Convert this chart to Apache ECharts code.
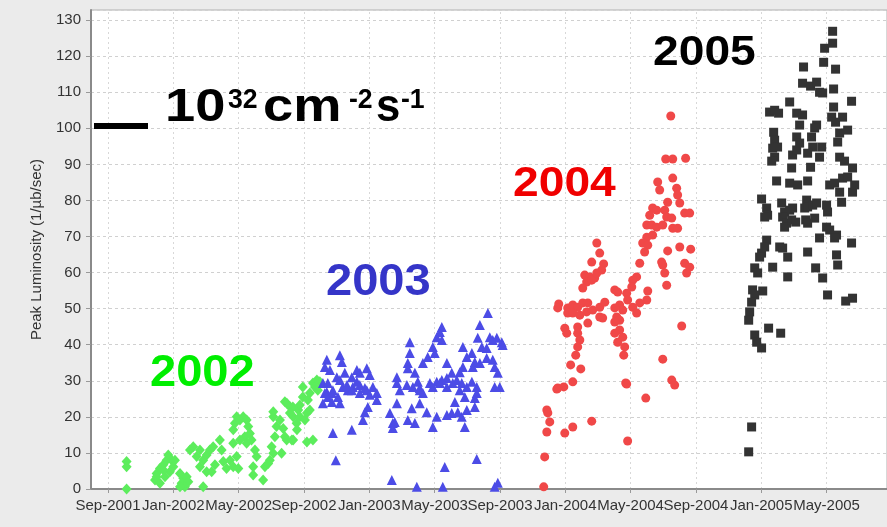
<!DOCTYPE html>
<html><head><meta charset="utf-8">
<script src="https://cdn.jsdelivr.net/npm/echarts@6/dist/echarts.min.js"></script>
<style>html,body{margin:0;padding:0;background:#ebebeb}#c{width:887px;height:527px}</style>
</head><body><div id="c"></div><script>
// x = months after Sep-2001
const tickLabels = ['Sep-2001','Jan-2002','May-2002','Sep-2002','Jan-2003','May-2003','Sep-2003','Jan-2004','May-2004','Sep-2004','Jan-2005','May-2005'];
const tickMonths = [0,4,8,12,16,20,24,28,32,36,40,44];
const yTicks = [0,10,20,30,40,50,60,70,80,90,100,110,120,130];

const lum2002 = [
[1.14,7.6],[1.14,6.2],[1.14,0],
[2.88,2.5],[2.98,4.3],[3.18,5.7],[3.39,6.7],[3.59,8.0],[3.69,9.4],[3.9,8.0],[4.0,6.2],[3.79,4.8],[3.49,3.4],[3.18,1.6],[2.98,3.4],[3.39,5.3],[4.1,8.0],
[4.41,4.3],[4.61,3.0],[4.51,1.6],[4.82,3.4],[4.92,2.0],[4.71,0.6],[4.41,0.6],
[5.02,10.8],[5.22,11.7],[5.43,9.0],[5.63,10.8],[5.63,6.2],[5.83,8.0],[6.04,9.4],[6.24,10.8],[6.44,11.7],[6.04,4.8],[6.35,4.8],[6.55,6.7],[5.83,0.6],
[6.85,13.6],[6.96,10.8],[7.06,7.6],[7.26,5.7],[7.47,8.0],[7.67,12.7],[7.67,6.2],[7.88,9.0],[7.98,5.7],
[7.67,16.4],[7.77,18.2],[7.88,20.0],[8.08,19.1],[8.28,20.0],[8.49,19.1],[8.59,17.3],[8.38,14.5],[8.69,15.4],[8.08,13.6],[8.49,12.7],
[8.79,13.6],[9.0,10.8],[9.1,9.0],[8.89,6.2],[8.89,3.9],
[9.5,2.5],[9.61,6.2],[9.81,7.1],[9.91,8.0],[10.12,9.9],[10.02,11.7],[10.22,14.5],[10.32,17.3],[10.12,20.0],[10.12,21.4],[10.53,19.1],[10.73,16.8],[10.83,14.5],[10.63,9.9],[10.94,13.6],
[10.83,24.2],[11.14,22.8],[11.34,20.0],[11.55,18.2],[11.65,21.9],[11.34,13.6],[11.75,23.3],
[10.95,23.8],[11.32,22.7],[11.14,21.1],[11.75,20.0],[12.18,21.1],[11.57,16.4],[11.26,13.6],[12.18,13.0],[12.55,13.6],[12.55,29.4],[12.97,29.7],[12.85,27.4],[12.36,26.6],[11.93,28.3],[12.79,30.2],[12.67,28.3],[11.93,25.5],[12.24,24.7],[12.06,19.1],[12.36,21.9]
];

const lum2003 = [
[13.95,8.0],[13.77,15.5],[14.93,16.4],[15.61,19.1],[17.38,2.5],[18.91,0.6],[20.5,0.6],[20.62,6.1],[22.58,8.3],[23.87,1.7],[23.68,0.6],
[23.68,28.3],[23.99,28.3],[17.44,18.3],[17.69,23.8],[18.36,19.1],[18.79,18.3],[19.52,21.3],[19.89,17.2],[20.13,20.0],[20.75,20.5],[21.05,21.1],[21.66,20.0],[21.85,17.2],[22.46,22.7],
[23.26,48.8],[22.77,45.5],[20.44,44.9],[20.32,43.5],[20.13,42.1],[20.44,41.3],[18.48,40.7],[23.38,42.1],[23.56,41.3],[23.81,41.9],[24.11,40.7],[24.17,39.9],
[21.73,39.4],[22.64,41.9],[22.89,39.4],[23.19,39.1],[19.89,39.4],[20.01,37.7],[19.58,36.6],[19.28,34.9],[18.48,37.7],[18.36,34.9],[18.36,33.5],
[14.2,37.1],[14.32,35.2],[13.4,35.8],[13.28,33.8],[13.59,33.0],[15.24,33.0],[15.42,32.2],[15.85,33.5],[16.03,31.6],[14.93,31.0],[14.5,32.2],[14.01,31.0],
[22.28,37.7],[21.97,36.6],[22.46,35.2],[22.34,33.8],[21.73,33.8],[21.54,32.4],[22.77,34.9],[23.19,36.3],[23.56,35.8],[23.68,33.8],[23.87,32.2],
[20.75,34.9],[21.05,32.2],[20.75,30.8],[20.44,30.2],[20.13,29.7],[19.71,29.4],[21.36,30.2],[21.66,29.4],[21.97,28.3],[22.28,29.7],[22.58,28.3],
[18.79,32.2],[18.97,29.7],[18.67,28.3],[19.09,27.4],[19.28,26.6],[17.69,31.0],[17.69,29.4],[17.87,27.4],
[14.2,30.2],[14.38,28.3],[14.69,27.4],[14.99,28.3],[15.42,28.8],[15.85,27.4],[16.22,28.3],[16.46,26.6],[13.16,29.4],[13.4,26.9],[13.71,26.6],
[13.46,29.4],[13.77,27.4],[14.08,25.5],[14.2,23.8],[14.63,28.8],[14.93,27.4],[15.24,29.7],[15.42,26.6],[15.73,28.0],[16.03,26.1],[16.46,24.7],[15.91,22.7],[15.73,21.3],
[13.46,25.5],[13.71,24.1],[13.16,23.8],[13.28,26.6],[18.3,28.8],[19.09,28.0],[19.89,28.3],[18.6,22.4],[19.09,23.8],[17.26,21.1],[17.56,18.6],[17.44,16.9],
[21.11,29.4],[21.54,27.4],[21.85,25.5],[21.24,24.1],[20.75,28.3],[20.32,29.4],[21.42,21.3],[21.97,21.9],[22.46,25.2],[22.58,26.6]
];

const lum2004 = [
[34.46,103.4],[34.15,91.5],[34.58,91.5],[35.37,91.7],[33.66,85.1],[34.58,86.2],[34.82,83.4],[34.88,81.5],[33.78,82.9],[34.27,79.5],[35.01,79.3],
[33.35,77.9],[33.6,77.3],[34.09,77.3],[33.17,75.9],[34.21,75.4],[34.52,75.1],[35.31,76.5],[35.62,76.5],[32.99,73.2],[33.29,73.2],[33.6,72.6],[33.97,73.2],[34.58,72.3],[34.88,72.3],
[32.99,69.8],[33.35,70.4],[32.74,68.2],[33.05,67.6],[35.01,67.1],[35.68,66.5],[34.27,66.0],[32.86,65.7],[33.9,62.9],[33.97,62.1],[35.31,62.6],[35.62,61.5],[35.43,59.9],[34.09,59.9],[34.21,56.5],
[32.56,62.6],[32.37,58.8],[33.05,54.9],[32.13,57.9],[32.07,56.0],[31.76,54.3],[32.99,52.4],[32.56,51.6],[32.13,50.4],[32.37,48.8],[31.82,52.4],[31.03,55.2],[31.21,54.6],[31.33,51.0],[31.52,49.6],[31.03,50.2],
[31.15,47.7],[31.33,46.8],[31.03,46.3],[31.33,44.1],[31.03,43.2],[31.52,42.1],[31.21,40.7],[31.64,39.4],[31.58,37.1],[31.7,29.4],[35.13,45.2],[33.97,36.0],[34.52,30.2],[34.7,28.8],[32.93,25.2],
[29.93,68.2],[30.11,65.4],[29.62,62.9],[30.35,62.4],[30.23,60.7],[29.19,59.3],[29.5,58.8],[29.8,58.5],[29.31,57.4],[29.62,57.9],[29.93,59.9],[29.07,55.7],
[27.6,51.3],[27.54,50.2],[28.15,50.2],[28.46,51.0],[28.76,50.4],[29.07,51.6],[29.38,51.6],[28.15,48.8],[28.46,48.8],[28.89,48.2],[29.31,49.1],[29.68,49.6],[30.11,50.4],[30.42,51.8],[30.11,47.7],[30.29,47.4],[29.38,46.0],
[27.97,44.6],[28.09,43.2],[28.76,44.9],[28.76,43.2],[28.89,41.3],[28.76,39.4],[28.64,37.1],[28.33,34.4],[28.95,33.3],[28.46,29.7],[27.91,28.3],[27.54,28.0],[27.48,27.7],
[26.87,21.9],[26.93,21.1],[27.05,18.6],[26.87,15.8],[27.97,15.5],[28.46,17.2],[29.62,18.8],[26.74,8.9],[26.68,0.6],[31.76,29.1],[31.82,13.3]
];

const lum2005 = [
[44.37,126.9],[43.88,122.2],[44.37,123.6],[43.82,118.3],[44.55,116.4],[42.59,117.0],[42.53,112.5],[43.02,111.7],[43.39,112.8],[43.57,110.0],[43.76,109.8],[44.43,110.9],[45.53,107.5],[44.43,105.9],[41.74,107.3],
[40.51,104.5],[40.82,105.0],[41.06,104.2],[42.17,104.2],[42.53,103.7],[44.31,103.1],[44.55,101.7],[44.98,103.1],[42.35,100.9],[43.39,100.9],[43.27,100.1],[40.76,98.9],[45.29,99.5],
[40.82,96.7],[41.0,94.8],[40.7,94.5],[42.17,97.6],[42.35,95.9],[43.08,97.6],[43.15,94.8],[44.68,96.2],[44.8,98.7],[43.7,94.8],[40.82,92.0],[40.64,90.9],[41.92,92.6],[42.17,94.0],[42.84,93.1],[43.57,92.0],[44.8,92.0],[45.1,90.9],
[41.86,89.0],[43.02,89.2],[45.59,89.0],[40.94,85.4],[41.74,84.8],[42.23,84.3],[42.84,85.4],[44.19,84.3],[44.49,84.8],[44.98,86.2],[45.29,86.5],[44.8,82.3],[45.59,82.3],[45.72,84.3],
[40.02,80.4],[41.25,79.3],[41.74,77.3],[41.92,77.9],[41.43,76.8],[42.78,80.1],[42.66,77.9],[42.84,78.2],[43.15,78.7],[43.39,79.3],[44.0,78.7],[44.06,76.8],[44.92,79.5],
[40.33,77.9],[40.39,75.9],[40.21,75.4],[41.31,75.4],[41.55,73.7],[41.43,72.6],[41.86,74.6],[42.11,74.0],[42.72,74.6],[43.27,75.1],[42.84,73.7],[44.0,72.6],[44.19,71.8],[44.61,70.4],[44.49,69.6],[43.57,69.6],[45.53,68.2],
[40.33,69.0],[40.21,67.1],[40.02,65.4],[39.9,64.3],[41.13,67.1],[41.31,66.8],[41.62,64.3],[42.84,65.7],[44.61,64.9],[44.68,62.1],[40.7,61.5],[39.6,61.3],[39.78,59.9],[43.33,61.3],[41.62,58.8],[43.76,58.5],
[39.47,55.2],[40.09,54.9],[39.6,53.8],[39.41,51.8],[39.29,49.1],[39.23,46.8],[44.06,53.8],[45.17,52.1],[45.59,52.9],[40.45,44.6],[41.19,43.2],[39.6,42.7],[39.72,40.7],[40.02,39.1],[39.41,17.2],[39.23,10.3]
];

const yearLabels = ['2002','2003','2004','2005'];

const chart = echarts.init(document.getElementById('c'), null, {renderer:'canvas'});
const F = '"Liberation Sans", Arial, sans-serif';
function txt(text, left, baseline, size, color, sx){
  return {type:'text', x:left, y:baseline - 0.31*size, scaleX:sx||1, z:100,
    style:{text:text, font:'bold '+size+'px '+F, fill:color, align:'left', verticalAlign:'middle'}};
}
chart.setOption({
  animation:false,
  backgroundColor:'#ebebeb',
  grid:{left:91, right:0, top:10, bottom:38, show:true, backgroundColor:'#ffffff', borderColor:'#b0b0b0', borderWidth:1},
  xAxis:{type:'value', min:-1.04, max:47.7,
    axisLine:{show:true, onZero:false, lineStyle:{color:'#8a8a8a', width:2}},
    axisTick:{show:true, length:4, customValues:tickMonths, lineStyle:{color:'#999'}},
    axisLabel:{customValues:tickMonths, margin:9, color:'#333', fontSize:15, fontFamily:F,
      formatter:v=>tickLabels[tickMonths.indexOf(Math.round(v))] || ''},
    splitLine:{show:false}
  },
  yAxis:{type:'value', min:0, max:132.8, interval:10,
    name:'Peak Luminosity (1/µb/sec)', nameLocation:'middle', nameGap:47,
    nameTextStyle:{color:'#333', fontSize:15, fontFamily:F},
    axisLine:{show:true, onZero:false, lineStyle:{color:'#8a8a8a', width:2}},
    axisTick:{show:true, length:5, lineStyle:{color:'#999'}},
    axisLabel:{margin:10, color:'#333', fontSize:15, fontFamily:F, showMaxLabel:false,
      formatter:v=> yTicks.indexOf(Math.round(v*10)/10) >= 0 ? String(v) : ''},
    splitLine:{show:true, lineStyle:{color:'#d0d0d0', type:[3,3], width:1}}
  },
  series:[
    {type:'scatter', name:yearLabels[0], data:lum2002, symbol:'diamond', symbolSize:[10,11], itemStyle:{color:'#5ced5c', opacity:1},
      markLine:{silent:true, z:0, symbol:'none', animation:false, label:{show:false},
        lineStyle:{color:'#d8d8d8', type:[2,3], width:1},
        data:tickMonths.map(m=>({xAxis:m}))}},
    {type:'scatter', name:yearLabels[1], data:lum2003, symbol:'triangle', symbolSize:10, itemStyle:{color:'#4c4ce6', opacity:1}},
    {type:'scatter', name:yearLabels[2], data:lum2004, symbol:'circle', symbolSize:9, itemStyle:{color:'#f04848', opacity:1}},
    {type:'scatter', name:yearLabels[3], data:lum2005, symbol:'rect', symbolSize:9, itemStyle:{color:'#333333', opacity:1}}
  ],
  graphic:[
    txt(yearLabels[0], 150, 387, 44, '#00ee00', 1.07),
    txt(yearLabels[1], 326, 296, 44, '#3535c8', 1.07),
    txt(yearLabels[2], 513, 197, 42, '#f00000', 1.1),
    txt(yearLabels[3], 653, 66, 42, '#000000', 1.1),
    {type:'rect', shape:{x:94, y:123, width:54, height:6}, style:{fill:'#000'}, z:100},
    txt('10', 165, 123, 46, '#000', 1.18),
    txt('32', 228, 109, 28, '#000', 0.95),
    txt('cm', 263, 123, 46, '#000', 1.18),
    txt('-2', 349, 109, 28, '#000', 0.95),
    txt('s', 376, 123, 46, '#000', 0.95),
    txt('-1', 401, 109, 28, '#000', 0.95)
  ]
});
</script></body></html>
